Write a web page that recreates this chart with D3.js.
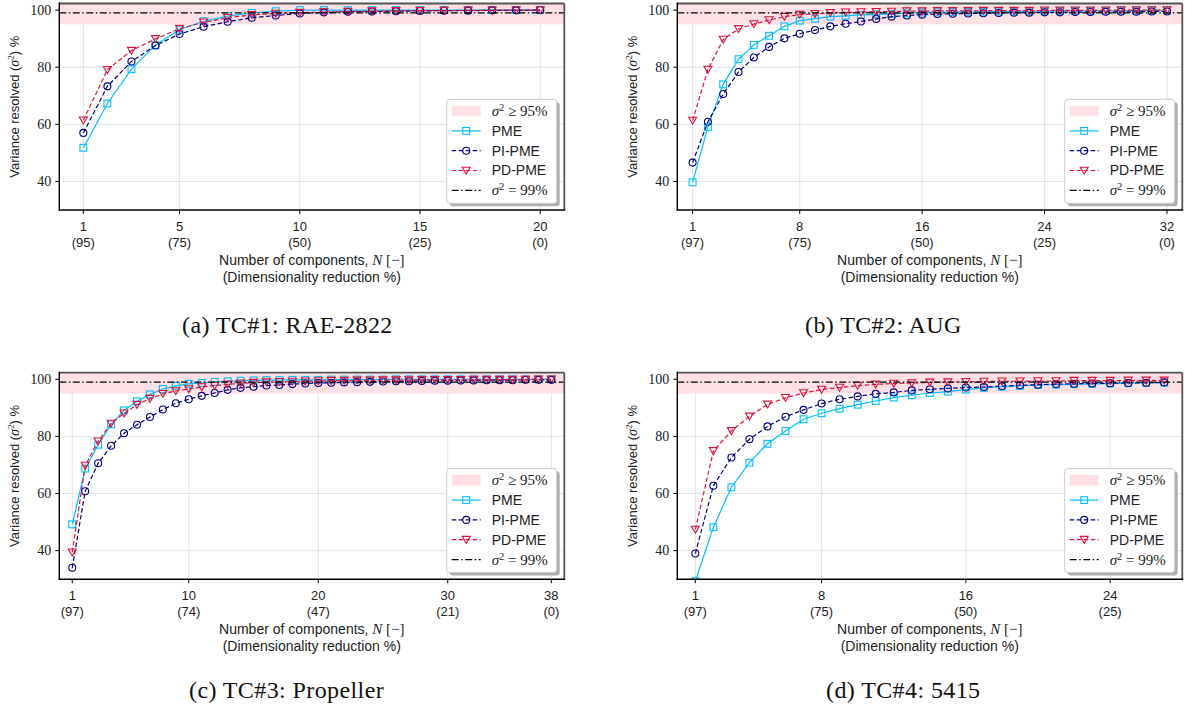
<!DOCTYPE html>
<html>
<head>
<meta charset="utf-8">
<script src="https://cdn.jsdelivr.net/npm/d3@7"></script>
<style>
  body { margin: 0; background: #fff; }
  svg { display: block; }
</style>
</head>
<body>
<svg id="chart" width="1185" height="709"></svg>
<script>
// ---- data ----
const pmeA = [51.8, 67.3, 79.3, 87.7, 93.2, 96.1, 97.9, 99.0, 99.6, 100, 100, 100, 100, 100, 100, 100, 100, 100, 100, 100];
const piA  = [57.0, 73.3, 82.0, 87.6, 91.6, 94.2, 95.9, 97.3, 98.1, 98.8, 99.2, 99.4, 99.5, 99.6, 99.7, 99.8, 99.8, 99.9, 99.9, 100];
const pdA  = [61.4, 79.1, 85.8, 89.9, 93.5, 95.7, 97.3, 98.3, 98.8, 99.1, 99.3, 99.5, 99.6, 99.7, 99.8, 99.8, 99.9, 99.9, 100, 100];

const pmeB = [39.7, 59.1, 74.0, 82.8, 87.8, 91.0, 94.3, 96.3, 97.0, 97.7, 98.0, 98.3, 98.5, 98.7, 98.9, 99.1, 99.2, 99.3, 99.4, 99.4, 99.5, 99.5, 99.6, 99.6, 99.7, 99.7, 99.7, 99.8, 99.8, 99.8, 99.9, 99.9];
const piB  = [46.6, 60.9, 70.6, 78.3, 83.4, 87.1, 90.1, 91.7, 93.0, 94.3, 95.2, 96.0, 96.9, 97.7, 98.1, 98.4, 98.6, 98.7, 98.8, 98.9, 99.0, 99.1, 99.1, 99.2, 99.2, 99.3, 99.3, 99.4, 99.4, 99.4, 99.5, 99.5];
const pdB  = [61.3, 79.2, 89.7, 93.4, 95.1, 96.5, 97.7, 98.4, 98.7, 99.0, 99.2, 99.3, 99.4, 99.5, 99.6, 99.6, 99.7, 99.7, 99.7, 99.8, 99.8, 99.8, 99.8, 99.9, 99.9, 99.9, 99.9, 99.9, 100, 100, 100, 100];

const pmeC = [49.2, 68.7, 77.1, 84.2, 89.1, 92.3, 94.7, 96.6, 97.7, 98.4, 98.7, 99.1, 99.3, 99.5, 99.6, 99.7, 99.7, 99.8, 99.8, 99.8, 99.9, 99.9, 99.9, 99.9, 99.9, 100, 100, 100, 100, 100, 100, 100, 100, 100, 100, 100, 100, 100];
const piC  = [34.0, 60.8, 70.6, 76.7, 81.1, 84.1, 86.8, 89.4, 91.6, 93.0, 94.2, 95.2, 96.3, 97.0, 97.4, 97.8, 98.0, 98.3, 98.5, 98.7, 98.8, 98.9, 99.0, 99.1, 99.2, 99.3, 99.3, 99.4, 99.5, 99.5, 99.6, 99.6, 99.7, 99.7, 99.7, 99.8, 99.8, 99.8];
const pdC  = [39.4, 69.8, 78.3, 84.5, 88.1, 91.1, 93.2, 94.9, 95.9, 96.6, 97.3, 97.8, 98.2, 98.6, 98.8, 99.0, 99.1, 99.2, 99.3, 99.4, 99.5, 99.5, 99.6, 99.6, 99.7, 99.7, 99.7, 99.8, 99.8, 99.8, 99.8, 99.9, 99.9, 99.9, 99.9, 99.9, 100, 100];

const pmeD = [29.3, 48.2, 62.2, 70.8, 77.4, 81.9, 86.0, 88.1, 89.7, 91.1, 92.4, 93.6, 94.4, 95.2, 95.7, 96.4, 97.0, 97.4, 97.7, 98.0, 98.1, 98.3, 98.4, 98.5, 98.6, 98.7, 98.8];
const piD  = [39.0, 62.7, 72.6, 79.0, 83.5, 86.9, 89.3, 91.5, 93.0, 94.0, 94.9, 95.4, 96.1, 96.5, 96.8, 97.1, 97.3, 97.6, 97.9, 98.1, 98.3, 98.4, 98.5, 98.6, 98.7, 98.8, 98.9];
const pdD  = [47.4, 74.9, 81.9, 87.0, 91.2, 93.5, 95.2, 96.4, 97.1, 97.8, 98.2, 98.5, 98.7, 98.9, 99.0, 99.1, 99.2, 99.3, 99.3, 99.4, 99.4, 99.5, 99.5, 99.5, 99.6, 99.6, 99.6];

const ticksA = [1, 5, 10, 15, 20],  redA = ['(95)', '(75)', '(50)', '(25)', '(0)'];
const ticksB = [1, 8, 16, 24, 32],  redB = ['(97)', '(75)', '(50)', '(25)', '(0)'];
const ticksC = [1, 10, 20, 30, 38], redC = ['(97)', '(74)', '(47)', '(21)', '(0)'];
const ticksD = [1, 8, 16, 24],      redD = ['(97)', '(75)', '(50)', '(25)'];
const yTicks = [40, 60, 80, 100];

const captions = ['(a) TC#1: RAE-2822', '(b) TC#2: AUG', '(c) TC#3: Propeller', '(d) TC#4: 5415'];

const seriesNames = ['PME', 'PI-PME', 'PD-PME'];
const colors = { 'PME': '#00bfff', 'PI-PME': '#000080', 'PD-PME': '#dc143c' };

const SERIF = '"Liberation Serif", "DejaVu Serif", serif';
const SANS = '"Liberation Sans", "DejaVu Sans", sans-serif';

const svg = d3.select('#chart');

const panels = [
  { id: 'a', left: 59.3, top: 3.5, xmax: 21, ticks: ticksA, red: redA, data: [pmeA, piA, pdA], cap: captions[0], capX: 182, capY: 333 },
  { id: 'b', left: 677.3, top: 3.5, xmax: 33, ticks: ticksB, red: redB, data: [pmeB, piB, pdB], cap: captions[1], capX: 805, capY: 333 },
  { id: 'c', left: 59.3, top: 372.7, xmax: 39, ticks: ticksC, red: redC, data: [pmeC, piC, pdC], cap: captions[2], capX: 189, capY: 698 },
  { id: 'd', left: 677.3, top: 372.7, xmax: 28, ticks: ticksD, red: redD, data: [pmeD, piD, pdD], cap: captions[3], capX: 826, capY: 698 }
];

const W = 505, H = 206.5;

function marker(sel, name, color) {
  if (name === 'PME') {
    sel.append('rect').attr('x', -3.4).attr('y', -3.4).attr('width', 6.8).attr('height', 6.8)
      .attr('fill', 'none').attr('stroke', color).attr('stroke-width', 1.1);
  } else if (name === 'PI-PME') {
    sel.append('circle').attr('r', 3.5)
      .attr('fill', 'none').attr('stroke', color).attr('stroke-width', 1.1);
  } else {
    sel.append('path').attr('d', 'M-4,-3.3L4,-3.3L0,3.6Z')
      .attr('fill', 'none').attr('stroke', color).attr('stroke-width', 1.1);
  }
}

function sigmaText(sel, rest) {
  sel.append('tspan').attr('font-style', 'italic').text('σ');
  sel.append('tspan').attr('font-size', '0.7em').attr('dy', -5).text('2');
  sel.append('tspan').attr('dy', 5).text(rest);
}

panels.forEach(p => {
  const x = d3.scaleLinear().domain([0, p.xmax]).range([0, W]);
  const y = d3.scaleLinear().domain([30, 102.3]).range([H, 0]);

  const g = svg.append('g').attr('transform', `translate(${p.left},${p.top})`);

  g.append('clipPath').attr('id', 'clip-' + p.id)
    .append('rect').attr('width', W).attr('height', H);

  // grid
  g.append('g').selectAll('line').data(p.ticks).enter().append('line')
    .attr('x1', d => x(d)).attr('x2', d => x(d)).attr('y1', 0).attr('y2', H)
    .attr('stroke', '#dcdcdc').attr('stroke-width', 0.8);
  g.append('g').selectAll('line').data(yTicks).enter().append('line')
    .attr('x1', 0).attr('x2', W).attr('y1', d => y(d)).attr('y2', d => y(d))
    .attr('stroke', '#dcdcdc').attr('stroke-width', 0.8);

  const plot = g.append('g').attr('clip-path', `url(#clip-${p.id})`);

  // sigma^2 >= 95% band
  plot.append('rect').attr('x', 0).attr('width', W)
    .attr('y', 0).attr('height', y(95))
    .attr('fill', '#ffe0e4');

  // series
  const line = d3.line().x((d, i) => x(i + 1)).y(d => y(d));
  seriesNames.forEach((name, k) => {
    const vals = p.data[k];
    const c = colors[name];
    plot.append('path').datum(vals).attr('d', line)
      .attr('fill', 'none').attr('stroke', c).attr('stroke-width', 1.2)
      .attr('stroke-dasharray', name === 'PME' ? null : '4.5,2.5');
    plot.append('g').selectAll('g').data(vals).enter().append('g')
      .attr('transform', (d, i) => `translate(${x(i + 1)},${y(d)})`)
      .each(function () { marker(d3.select(this), name, c); });
  });

  // 99% line
  plot.append('line').attr('x1', 0).attr('x2', W).attr('y1', y(99)).attr('y2', y(99))
    .attr('stroke', '#000').attr('stroke-width', 1.2).attr('stroke-dasharray', '7,2.5,1.5,2.5');

  // spines
  g.append('line').attr('x1', 0).attr('x2', W).attr('y1', 0).attr('y2', 0).attr('stroke', '#555').attr('stroke-width', 1.8);
  g.append('line').attr('x1', W).attr('x2', W).attr('y1', 0).attr('y2', H).attr('stroke', '#555').attr('stroke-width', 1.8);
  g.append('line').attr('x1', 0).attr('x2', 0).attr('y1', -0.9).attr('y2', H + 0.7).attr('stroke', '#000').attr('stroke-width', 1.4);
  g.append('line').attr('x1', -0.7).attr('x2', W + 0.9).attr('y1', H).attr('y2', H).attr('stroke', '#000').attr('stroke-width', 1.4);

  // y axis ticks
  const ya = g.append('g');
  ya.selectAll('line').data(yTicks).enter().append('line')
    .attr('x1', -4).attr('x2', 0).attr('y1', d => y(d)).attr('y2', d => y(d))
    .attr('stroke', '#000').attr('stroke-width', 1);
  ya.selectAll('text').data(yTicks).enter().append('text')
    .attr('x', -8).attr('y', d => y(d) + 4.5).attr('text-anchor', 'end')
    .attr('font-family', SERIF).attr('font-size', 14).attr('fill', '#222').text(d => d);

  // x axis ticks
  const xa = g.append('g');
  xa.selectAll('line').data(p.ticks).enter().append('line')
    .attr('x1', d => x(d)).attr('x2', d => x(d)).attr('y1', H).attr('y2', H + 4)
    .attr('stroke', '#000').attr('stroke-width', 1);
  xa.selectAll('text.n').data(p.ticks).enter().append('text').attr('class', 'n')
    .attr('x', d => x(d)).attr('y', H + 20.5).attr('text-anchor', 'middle')
    .attr('font-family', SANS).attr('font-size', 13).attr('fill', '#222').text(d => d);
  xa.selectAll('text.r').data(p.red).enter().append('text').attr('class', 'r')
    .attr('x', (d, i) => x(p.ticks[i])).attr('y', H + 37).attr('text-anchor', 'middle')
    .attr('font-family', SANS).attr('font-size', 13).attr('fill', '#222').text(d => d);

  // x label
  const xl = g.append('text').attr('x', W / 2).attr('y', H + 54.5).attr('text-anchor', 'middle')
    .attr('font-family', SANS).attr('font-size', 14).attr('fill', '#222');
  xl.append('tspan').text('Number of components, ');
  xl.append('tspan').attr('font-family', SERIF).attr('font-style', 'italic').attr('font-size', 15).text('N');
  xl.append('tspan').attr('font-family', SERIF).attr('font-size', 15).text(' [−]');
  g.append('text').attr('x', W / 2).attr('y', H + 72).attr('text-anchor', 'middle')
    .attr('font-family', SANS).attr('font-size', 14).attr('fill', '#222')
    .text('(Dimensionality reduction %)');

  // y label
  const yl = g.append('text').attr('transform', `translate(-40,${H / 2}) rotate(-90)`)
    .attr('text-anchor', 'middle').attr('font-family', SANS).attr('font-size', 13).attr('fill', '#222');
  yl.append('tspan').text('Variance resolved (');
  yl.append('tspan').attr('font-family', SERIF).attr('font-style', 'italic').attr('font-size', 14).text('σ');
  yl.append('tspan').attr('font-family', SERIF).attr('font-size', 9).attr('dy', -5).text('2');
  yl.append('tspan').attr('dy', 5).text(') %');

  // legend
  const lw = 110, lh = 104;
  const lg = g.append('g').attr('transform', `translate(${W - 7.6 - lw},${H - 6.7 - lh})`);
  lg.append('rect').attr('x', 3).attr('y', 3).attr('width', lw).attr('height', lh).attr('rx', 3)
    .attr('fill', '#9a9a9a').attr('opacity', 0.8);
  lg.append('rect').attr('width', lw).attr('height', lh).attr('rx', 3)
    .attr('fill', '#fff').attr('stroke', '#cccccc').attr('stroke-width', 1);
  const rows = [11.7, 31.6, 51.4, 71.2, 91.1];
  const hx0 = 5, hx1 = 34, tx = 45;
  lg.append('rect').attr('x', hx0).attr('y', rows[0] - 5.3).attr('width', hx1 - hx0).attr('height', 10.6).attr('fill', '#ffe0e4');
  const t0 = lg.append('text').attr('x', tx).attr('y', rows[0] + 5).attr('font-family', SERIF).attr('font-size', 15).attr('fill', '#222');
  sigmaText(t0, ' ≥ 95%');
  seriesNames.forEach((name, k) => {
    const yy = rows[k + 1];
    const c = colors[name];
    lg.append('line').attr('x1', hx0).attr('x2', hx1).attr('y1', yy).attr('y2', yy)
      .attr('stroke', c).attr('stroke-width', 1.2)
      .attr('stroke-dasharray', name === 'PME' ? null : '4.5,2.5');
    const m = lg.append('g').attr('transform', `translate(${(hx0 + hx1) / 2},${yy})`);
    marker(m, name, c);
    lg.append('text').attr('x', tx).attr('y', yy + 5).attr('font-family', SANS).attr('font-size', 14)
      .attr('fill', '#222').text(name);
  });
  lg.append('line').attr('x1', hx0).attr('x2', hx1).attr('y1', rows[4]).attr('y2', rows[4])
    .attr('stroke', '#000').attr('stroke-width', 1.2).attr('stroke-dasharray', '7,2.5,1.5,2.5');
  const t4 = lg.append('text').attr('x', tx).attr('y', rows[4] + 5).attr('font-family', SERIF).attr('font-size', 15).attr('fill', '#222');
  sigmaText(t4, ' = 99%');

  // caption
  svg.append('text').attr('x', p.capX).attr('y', p.capY)
    .attr('font-family', SERIF).attr('font-size', 24).attr('letter-spacing', 0.4)
    .attr('fill', '#111').text(p.cap);
});
</script>
</body>
</html>
